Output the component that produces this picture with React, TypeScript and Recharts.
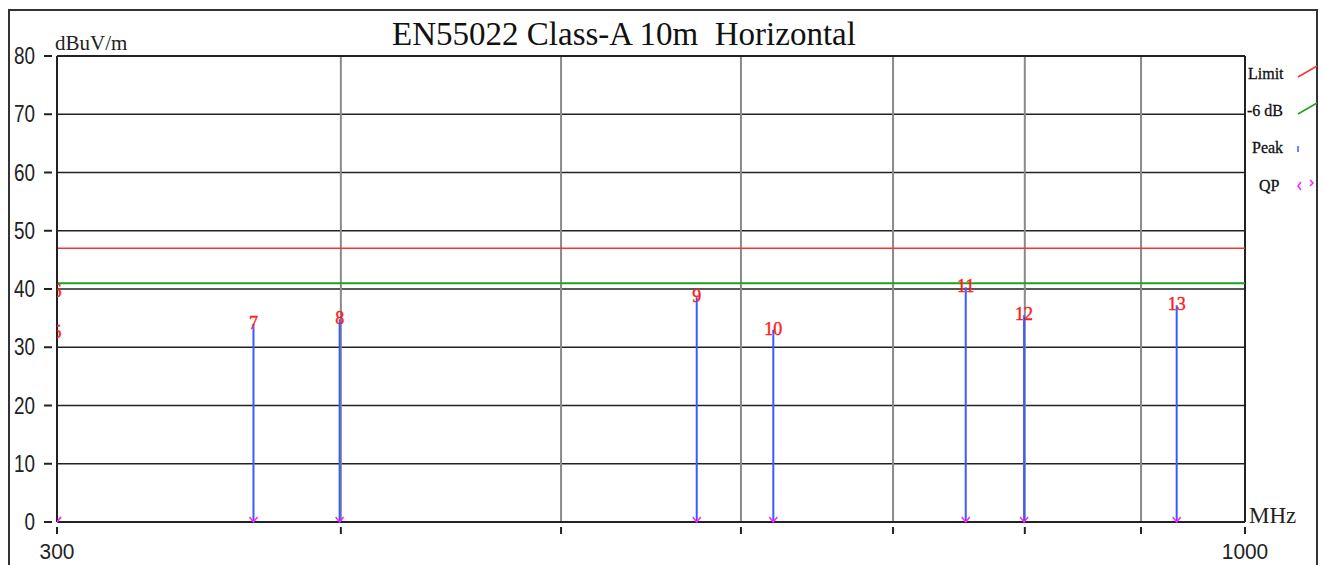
import React from "react";
import {
  ComposedChart,
  XAxis,
  YAxis,
  CartesianGrid,
  Line,
  Scatter,
  ReferenceLine,
} from "recharts";

// marker table
const markerNos = ["5", "6", "7", "8", "9", "10", "11", "12", "13"];
const markerFreqs = [300, 300, 366.1, 399.5, 573.7, 620.0, 753.5, 799.4, 933.1];
const peakLevels = [32.5, 39.5, 34.0, 34.8, 38.6, 33.0, 40.3, 35.5, 37.2];
const qpLevels = [0, 0, 0, 0, 0, 0, 0, 0, 0];

const limitLevel = 47;
const marginLevel = 41; // limit - 6 dB

const xTicks = [300, 400, 500, 600, 700, 800, 900, 1000];
const xLabelled = [300, 1000];
const yTicks = [0, 10, 20, 30, 40, 50, 60, 70, 80];
const gridFreqs = [400, 500, 600, 700, 800, 900];

const W = 1325;
const H = 565;
const F_MIN = 300;

const peakPoints = markerFreqs.map((f, i) => ({ f, v: peakLevels[i], no: markerNos[i] }));
const qpPoints = markerFreqs.map((f, i) => ({ f, v: qpLevels[i] }));

// stems: 0 -> peak, separated with nulls so each one is its own segment
const stemData = peakPoints
  .filter((p) => p.f > F_MIN)
  .flatMap((p) => [
    { f: p.f, v: 0 },
    { f: p.f, v: p.v },
    { f: p.f, v: null },
  ]);

const numFont = "'Liberation Sans', Arial, sans-serif";
const serif = "'Liberation Serif', 'DejaVu Serif', serif";

function YTick(props: any) {
  const { x, y, payload } = props;
  return (
    <g>
      <text
        transform={`translate(${x - 22},${y + 8}) scale(0.82,1)`}
        textAnchor="end"
        fontSize={23}
        fill="#222"
        fontFamily={numFont}
      >
        {payload.value}
      </text>
      <line x1={x - 13} x2={x - 5} y1={y} y2={y} stroke="#222" strokeWidth={2} />
    </g>
  );
}

function XTick(props: any) {
  const { x, y, payload } = props;
  return (
    <g>
      <line x1={x} x2={x} y1={y + 5} y2={y + 12} stroke="#222" strokeWidth={2} />
      {xLabelled.includes(payload.value) && (
        <text
          transform={`translate(${x},${y + 37}) scale(0.95,1)`}
          textAnchor="middle"
          fontSize={22}
          fill="#222"
          fontFamily={numFont}
        >
          {payload.value}
        </text>
      )}
    </g>
  );
}

function PeakLabel(props: any) {
  const { cx, cy, payload } = props;
  // markers sitting on the left edge are clipped by the plot area
  const atEdge = payload.f <= F_MIN;
  const x0 = atEdge ? cx : cx - 16;
  return (
    <svg x={x0} y={cy - 14} width={32} height={26} overflow="hidden">
      <text
        x={cx - x0}
        y={19}
        textAnchor="middle"
        fontSize={18}
        fill="#ff1a1a"
        stroke="#ff1a1a"
        strokeWidth={0.4}
        fontFamily={serif}
      >
        {payload.no}
      </text>
    </svg>
  );
}

function QpMark(props: any) {
  const { cx, cy } = props;
  return (
    <path
      d={`M${cx - 4},${cy - 5} L${cx},${cy} L${cx + 4},${cy - 5}`}
      stroke="#ff20ff"
      strokeWidth={1.5}
      fill="none"
    />
  );
}

export default function App() {
  return (
    <div style={{ position: "absolute", left: 0, top: 0, width: W, height: H, background: "#fff", overflow: "hidden" }}>
      <ComposedChart width={W} height={H} margin={{ top: 56, right: 80, bottom: 13, left: 0 }}>
        <CartesianGrid vertical={false} stroke="#222" strokeWidth={1.5} strokeOpacity={1} />
        {gridFreqs.map((f) => (
          <ReferenceLine key={f} x={f} stroke="#8a8a8a" strokeWidth={2} />
        ))}
        <ReferenceLine y={80} stroke="#222" strokeWidth={2} />
        <ReferenceLine x={1000} stroke="#222" strokeWidth={2} />
        <XAxis
          dataKey="f"
          type="number"
          scale="log"
          domain={[300, 1000]}
          ticks={xTicks}
          allowDataOverflow
          height={30}
          tickLine={false}
          tickSize={0}
          tickMargin={0}
          tick={<XTick />}
          axisLine={{ stroke: "#222", strokeWidth: 2 }}
          interval={0}
        />
        <YAxis
          dataKey="v"
          type="number"
          domain={[0, 80]}
          ticks={yTicks}
          width={57}
          tickLine={false}
          tickSize={0}
          tickMargin={0}
          tick={<YTick />}
          axisLine={{ stroke: "#222", strokeWidth: 2 }}
          interval={0}
        />
        <ReferenceLine y={limitLevel} stroke="#ff3030" strokeWidth={1.5} />
        <ReferenceLine y={marginLevel} stroke="#20a020" strokeWidth={2} />
        <Line
          data={stemData}
          dataKey="v"
          stroke="#3a5cff"
          strokeWidth={2}
          dot={false}
          connectNulls={false}
          isAnimationActive={false}
        />
        <Scatter data={qpPoints} dataKey="v" shape={<QpMark />} isAnimationActive={false} />
        <Scatter data={peakPoints} dataKey="v" shape={<PeakLabel />} isAnimationActive={false} />
      </ComposedChart>

      <svg width={W} height={H} style={{ position: "absolute", left: 0, top: 0, pointerEvents: "none" }}>
        <rect x={9} y={10} width={1308} height={600} fill="none" stroke="#333" strokeWidth={2} />
        <text
          x={624}
          y={45}
          textAnchor="middle"
          fontSize={33}
          fill="#111"
          fontFamily={serif}
          style={{ whiteSpace: "pre" }}
        >
          EN55022 Class-A 10m  Horizontal
        </text>
        <text x={55} y={50} fontSize={21} fill="#222" fontFamily={serif}>
          dBuV/m
        </text>
        <text x={1249} y={523} fontSize={23} fill="#222" fontFamily={serif}>
          MHz
        </text>
        <g fontFamily={serif} fontSize={16} fill="#111" stroke="#111" strokeWidth={0.3}>
          <text x={1248} y={79}>Limit</text>
          <text x={1247} y={116}>-6 dB</text>
          <text x={1252} y={153}>Peak</text>
          <text x={1259} y={191}>QP</text>
        </g>
        <line x1={1298} y1={77} x2={1317} y2={66} stroke="#ff3030" strokeWidth={1.5} />
        <line x1={1298} y1={114} x2={1317} y2={103} stroke="#20a020" strokeWidth={1.5} />
        <line x1={1298} y1={146} x2={1298} y2={152} stroke="#3a5cff" strokeWidth={1.5} />
        <path d="M1301,182 L1298,186 L1301,190 M1310,180 L1313,183 L1310,186" stroke="#ff20ff" strokeWidth={1.5} fill="none" />
      </svg>
    </div>
  );
}
